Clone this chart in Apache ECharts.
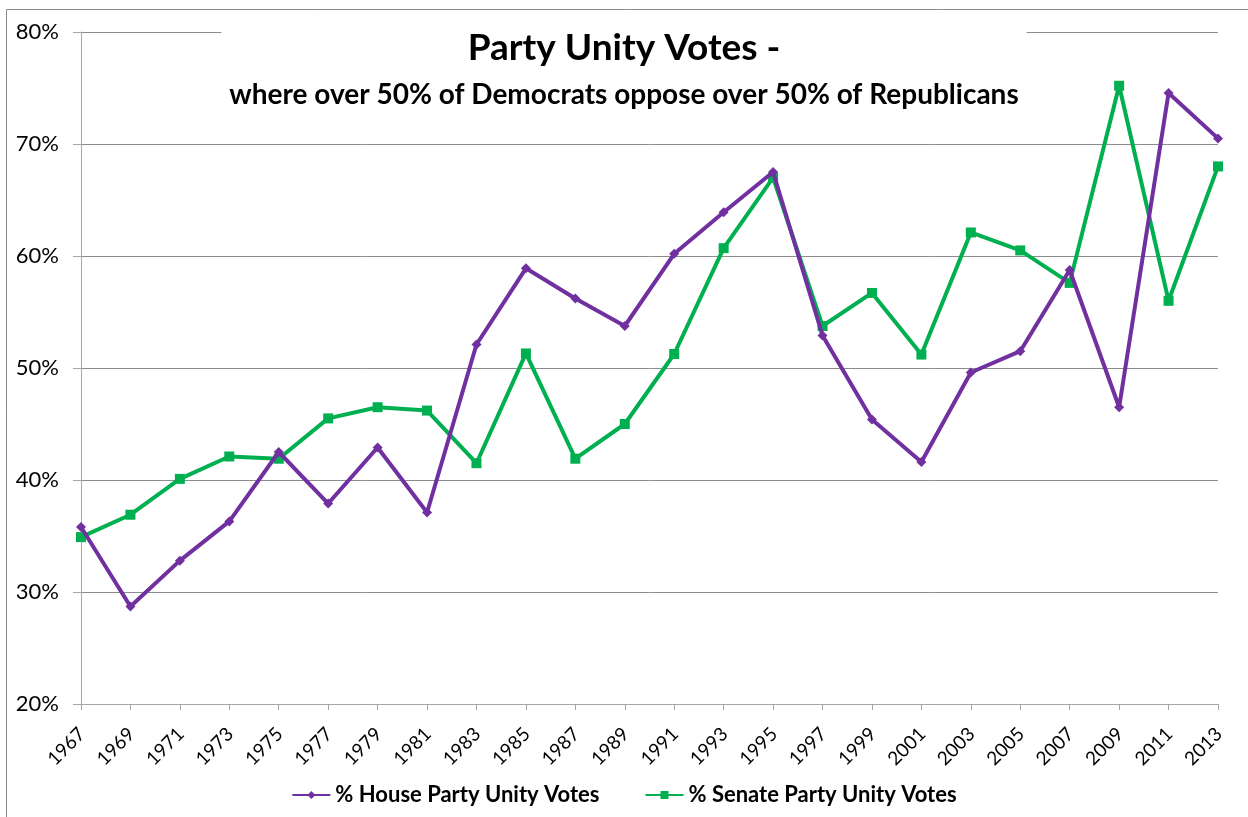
<!DOCTYPE html>
<html><head><meta charset="utf-8">
<script src="https://cdn.jsdelivr.net/npm/echarts@6/dist/echarts.min.js"></script>
<style>html,body{margin:0;padding:0;background:#fff}#c{width:1248px;height:817px}</style>
</head><body><div id="c"></div>
<script>
const years = ['1967','1969','1971','1973','1975','1977','1979','1981','1983','1985','1987','1989','1991','1993','1995','1997','1999','2001','2003','2005','2007','2009','2011','2013'];
const house = [35.8,28.7,32.8,36.3,42.5,37.9,42.9,37.1,52.1,58.9,56.2,53.75,60.2,63.9,67.5,52.9,45.4,41.6,49.6,51.5,58.75,46.5,74.55,70.5];
const senate = [34.9,36.9,40.1,42.1,41.9,45.5,46.5,46.2,41.5,51.3,41.9,45.0,51.25,60.7,67.0,53.75,56.7,51.2,62.1,60.5,57.6,75.2,56.0,68.0];
const titleText = 'Party Unity Votes -';
const subtitleText = 'where over 50% of Democrats oppose over 50% of Republicans';
const seriesNames = ['% House Party Unity Votes','% Senate Party Unity Votes'];
const yMin = 20, yMax = 80, yStep = 10;

const font = 'Lato, "Open Sans", sans-serif';
const chart = echarts.init(document.getElementById('c'));
chart.setOption({
  animation: false,
  textStyle: {fontFamily: font},
  graphic: [{type:'rect', shape:{x:6.5,y:9.5,width:1260,height:830}, style:{fill:'none',stroke:'#8c8c8c',lineWidth:1}, silent:true, z:-10}],
  title: {
    text: titleText, subtext: subtitleText,
    left: 'center', top: 26,
    backgroundColor: '#fff', padding: [4, 8, 6, 8], itemGap: 14,
    textStyle: {fontFamily: font, fontSize: 37, fontWeight: 'bold', color: '#000'},
    subtextStyle: {fontFamily: font, fontSize: 28, fontWeight: 'bold', color: '#000'}
  },
  legend: {
    data: seriesNames,
    bottom: 6, left: 'center', itemGap: 45, itemWidth: 38, itemHeight: 10,
    textStyle: {fontFamily: font, fontSize: 22, fontWeight: 'bold', color: '#000'}
  },
  grid: {left: 81, right: 30, top: 32, bottom: 113},
  xAxis: {
    type: 'category', data: years, boundaryGap: false,
    axisLine: {lineStyle: {color: '#a6a6a6'}},
    axisTick: {show: true, length: 6, lineStyle: {color: '#a6a6a6'}},
    axisLabel: {show: false}
  },
  yAxis: {
    type: 'value', min: yMin, max: yMax, interval: yStep,
    axisLine: {show: true, lineStyle: {color: '#a6a6a6'}},
    axisTick: {show: true, length: 8, lineStyle: {color: '#a6a6a6'}},
    axisLabel: {formatter: '{value}%', fontSize: 22, color: '#000', margin: 22, fontFamily: font},
    splitLine: {lineStyle: {color: '#8c8c8c'}}
  },
  series: [
    {name: seriesNames[0], type: 'line', data: house, symbol: 'diamond', symbolSize: 10,
     itemStyle: {color: '#7030A0'}, lineStyle: {width: 4, color: '#7030A0'}, z: 4},
    {name: seriesNames[1], type: 'line', data: senate, symbol: 'rect', symbolSize: 10,
     itemStyle: {color: '#00B050'}, lineStyle: {width: 4, color: '#00B050'}, z: 3},
    {name: 'yearLabels', type: 'custom', silent: true, clip: false, tooltip: {show: false},
     data: years.map(function (y) { return [y, yMin]; }),
     encode: {x: 0, y: 1},
     renderItem: function (params, api) {
       var p = api.coord([api.value(0), yMin]);
       return {
         type: 'text',
         x: p[0] + 1, y: p[1] + 27,
         rotation: Math.PI / 4,
         style: {text: years[params.dataIndex], x: 0, y: 0, align: 'right', verticalAlign: 'middle',
                 fontSize: 19, fontFamily: font, fill: '#000'}
       };
     }}
  ]
});
</script></body></html>
